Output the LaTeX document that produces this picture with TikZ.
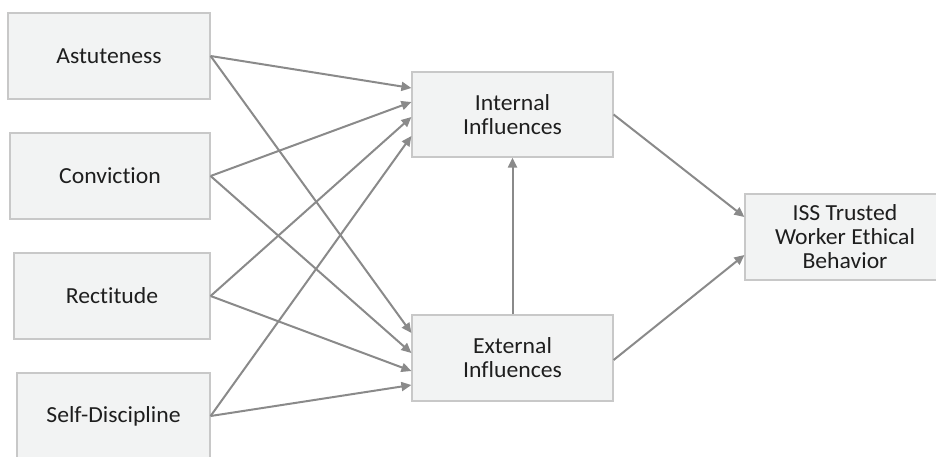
\documentclass[tikz,border=0pt]{standalone}
\usepackage{fontspec}
\setmainfont[Ligatures={NoCommon},FakeStretch=1.03]{Carlito}
\usetikzlibrary{arrows.meta}
\definecolor{boxfill}{HTML}{F2F3F3}
\definecolor{boxline}{HTML}{C8C8C8}
\definecolor{arrowc}{HTML}{8A8A8A}
\definecolor{txt}{HTML}{1E1E1E}
\begin{document}
\begin{tikzpicture}[x=1pt,y=-1pt,
  box/.style={draw=boxline,line width=1.2pt,fill=boxfill,rectangle,inner sep=0pt,
    minimum height=86pt,align=center,text=txt,font=\fontsize{23}{24}\selectfont},
  conn/.style={draw=arrowc,line width=2pt,-{Triangle[length=10pt,width=9pt]}}]
\useasboundingbox (0,0) rectangle (936,456);
\clip (0,0) rectangle (936,456);
\node[box,minimum width=202pt] (ast) at (109,56) {Astuteness};
\node[box,minimum width=200pt] (con) at (110,176) {Conviction};
\node[box,minimum width=196pt] (rec) at (112,296) {Rectitude};
\node[box,minimum width=193pt] (sel) at (113.5,416) {Self-Discipline};
\node[box,minimum width=201pt,minimum height=85pt] (int) at (512.5,114.5) {Internal\\Influences};
\node[box,minimum width=201pt] (ext) at (512.5,358) {External\\Influences};
\node[box,minimum width=200pt] (iss) at (845,237) {ISS Trusted\\Worker Ethical\\Behavior};
\draw[conn] (ast.east) -- ([yshift=26.5pt]int.west);
\draw[conn] (con.east) -- ([yshift=12.5pt]int.west);
\draw[conn] (rec.east) -- ([yshift=-2.5pt]int.west);
\draw[conn] (sel.east) -- ([yshift=-21.5pt]int.west);
\draw[conn] (ast.east) -- ([yshift=25pt]ext.west);
\draw[conn] (con.east) -- ([yshift=5pt]ext.west);
\draw[conn] (rec.east) -- ([yshift=-13pt]ext.west);
\draw[conn] (sel.east) -- ([yshift=-27pt]ext.west);
\draw[conn] (ext.north) -- (int.south);
\draw[conn] (int.east) -- ([yshift=20pt]iss.west);
\draw[conn] ([yshift=-2pt]ext.east) -- ([yshift=-18pt]iss.west);
\end{tikzpicture}
\end{document}
